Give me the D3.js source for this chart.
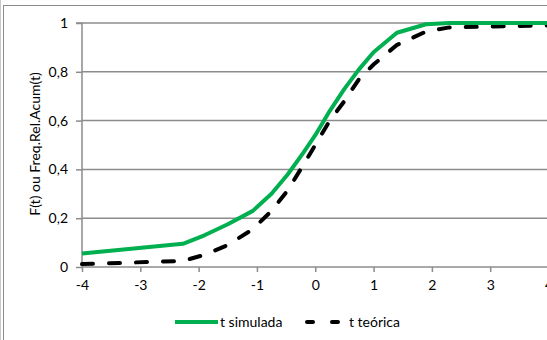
<!DOCTYPE html>
<html><head><meta charset="utf-8">
<script src="https://cdn.jsdelivr.net/npm/d3@7"></script>
<style>body{margin:0;background:#fff}svg{display:block}</style>
</head><body>
<svg id="c" width="547" height="340"></svg>
<script>
const tValues = [-4, -2.27, -1.9, -1.5, -1.07, -0.75, -0.47, -0.2, 0, 0.25, 0.5, 0.75, 1.0, 1.4, 1.9, 2.3, 4];
const simulada = [0.055, 0.095, 0.13, 0.175, 0.23, 0.3, 0.38, 0.47, 0.54, 0.64, 0.73, 0.81, 0.88, 0.96, 0.995, 1, 1];
const teorica  = [0.012, 0.025, 0.05, 0.09, 0.155, 0.23, 0.315, 0.42, 0.50, 0.60, 0.68, 0.77, 0.83, 0.91, 0.965, 0.982, 0.99];
const xTicks = [-4, -3, -2, -1, 0, 1, 2, 3, 4];
const yTicks = [0, 0.2, 0.4, 0.6, 0.8, 1];
const seriesNames = ["t simulada", "t teórica"];

const svg = d3.select("#c");
const font = "Lato, 'Open Sans', sans-serif";
const x = d3.scaleLinear().domain([-4, 4]).range([82, 548.5]);
const y = d3.scaleLinear().domain([0, 1]).range([267, 23]);
const fmt = d => d === 0 ? "0" : d === 1 ? "1" : d3.format(".1f")(d).replace(".", ",");

// outer frame
svg.append("line").attr("x1", 0.5).attr("x2", 0.5).attr("y1", 0).attr("y2", 340).attr("stroke", "#c8c8c8");
svg.append("line").attr("x1", 3.5).attr("x2", 3.5).attr("y1", 5).attr("y2", 340).attr("stroke", "#8c8c8c");
svg.append("line").attr("x1", 3.5).attr("x2", 547).attr("y1", 5.5).attr("y2", 5.5).attr("stroke", "#8c8c8c");

// gridlines
svg.append("g").selectAll("line").data(yTicks.filter(d => d > 0)).join("line")
  .attr("x1", x(-4)).attr("x2", 547).attr("y1", d => y(d)).attr("y2", d => y(d))
  .attr("stroke", "#8c8c8c").attr("stroke-width", 1.5);

// y axis
const ya = svg.append("g").attr("transform", `translate(${x(-4)},0)`)
  .call(d3.axisLeft(y).tickValues(yTicks).tickFormat(fmt).tickSize(6).tickPadding(8));
ya.select(".domain").attr("stroke", "#8c8c8c").attr("stroke-width", 1.5).attr("d", `M-6,${y(1)}H0V${y(0)}`);
ya.selectAll(".tick line").attr("stroke", "#8c8c8c").attr("stroke-width", 1.5);
ya.selectAll("text").attr("font-family", font).attr("font-size", 14).attr("fill", "#000");

// x axis
const xa = svg.append("g").attr("transform", `translate(0,${y(0)})`)
  .call(d3.axisBottom(x).tickValues(xTicks).tickFormat(d3.format("d")).tickSize(5).tickPadding(8));
xa.select(".domain").attr("stroke", "#8c8c8c").attr("stroke-width", 1.5).attr("d", `M${x(-4)},0H547`);
xa.selectAll(".tick line").attr("stroke", "#8c8c8c").attr("stroke-width", 1.5);
xa.selectAll("text").attr("font-family", font).attr("font-size", 14).attr("fill", "#000")
  .text(d => d < 0 ? "-" + Math.abs(d) : d);

// y title
svg.append("text").attr("transform", "translate(40,144) rotate(-90)")
  .attr("text-anchor", "middle").attr("font-family", font).attr("font-size", 14)
  .text("F(t) ou Freq.Rel.Acum(t)");

const line = d3.line().x((d, i) => x(tValues[i])).y(d => y(d));
svg.append("path").datum(teorica).attr("d", line).attr("fill", "none")
  .attr("stroke", "#000").attr("stroke-width", 4).attr("stroke-dasharray", "11,16").attr("stroke-linecap", "round");
svg.append("path").datum(simulada).attr("d", line).attr("fill", "none")
  .attr("stroke", "#00b050").attr("stroke-width", 4).attr("stroke-linejoin", "round");

// legend
const lg = svg.append("g");
lg.append("line").attr("x1", 175).attr("x2", 218).attr("y1", 322).attr("y2", 322).attr("stroke", "#00b050").attr("stroke-width", 4);
lg.append("text").attr("x", 220).attr("y", 327).attr("font-family", font).attr("font-size", 14).text(seriesNames[0]);
lg.append("line").attr("x1", 307).attr("x2", 345).attr("y1", 322).attr("y2", 322).attr("stroke", "#000").attr("stroke-width", 4)
  .attr("stroke-dasharray", "6,19").attr("stroke-linecap", "round");
lg.append("text").attr("x", 349).attr("y", 327).attr("font-family", font).attr("font-size", 14).text(seriesNames[1]);
</script>
</body></html>
